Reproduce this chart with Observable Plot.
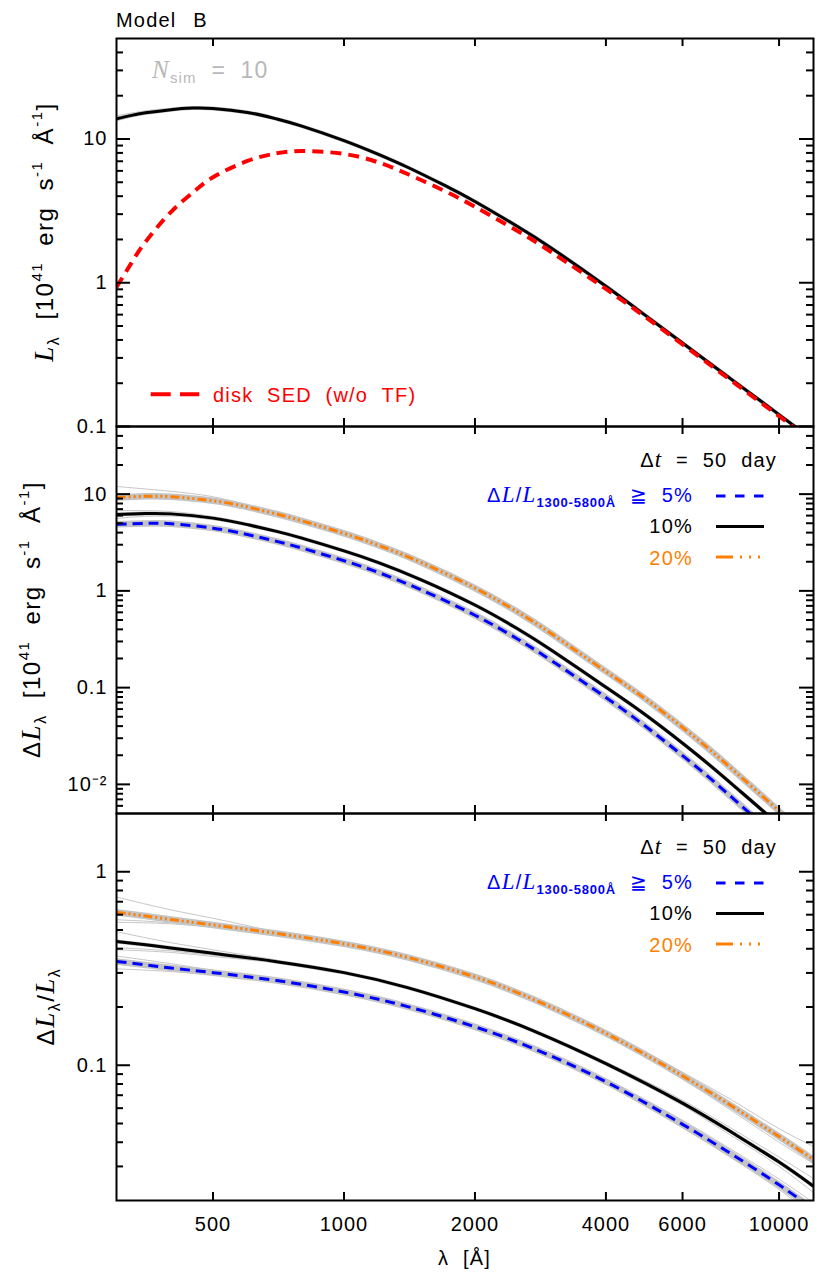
<!DOCTYPE html>
<html><head><meta charset="utf-8">
<script src="https://cdn.jsdelivr.net/npm/d3@7"></script>
<script src="https://cdn.jsdelivr.net/npm/@observablehq/plot@0.6"></script>
<style>
body{margin:0;background:#fff;}
#chart{width:830px;background:#fff;}
#chart svg{display:block;overflow:visible;}
</style></head><body><div id="chart"></div>
<script>
// ---------------- data ----------------
// wavelength grid (Angstrom) and values
const LAMBDA_1 = [300, 325, 350, 400, 450, 500, 600, 700, 800, 1000, 1200, 1400, 1700, 2000, 2500, 3000, 4000, 5000, 6500, 8000, 10000, 12000];
const L_MEAN   = [13.8, 14.6, 15.2, 16.0, 16.4, 16.3, 15.3, 13.8, 12.3, 9.75, 7.82, 6.36, 4.77, 3.67, 2.47, 1.74, 0.946, 0.574, 0.318, 0.1995, 0.121, 0.080];
const L_DISK   = [0.93, 1.38, 1.93, 3.1, 4.26, 5.42, 7.03, 7.95, 8.24, 7.87, 6.87, 5.71, 4.36, 3.38, 2.30, 1.63, 0.905, 0.56, 0.311, 0.195, 0.118, 0.078];
const LAMBDA_SIM1 = [300, 350, 400, 500, 700];
const L_SIM_A  = [14.5, 15.7, 16.3, 16.5, 13.9];
const L_SIM_B  = [13.4, 14.9, 15.8, 16.2, 13.75];

const LAMBDA_2 = [300, 350, 400, 500, 600, 700, 800, 1000, 1200, 1500, 2000, 2500, 3000, 4000, 5000, 6500, 8000, 10000, 12000];
const DL_5  = [4.87, 4.98, 4.95, 4.45, 3.82, 3.25, 2.77, 2.05, 1.55, 1.03, 0.56, 0.32, 0.19, 0.079, 0.038, 0.0148, 0.0066, 0.0027, 0.0013];
const DL_10 = [6.17, 6.3, 6.25, 5.65, 4.84, 4.12, 3.51, 2.59, 1.96, 1.31, 0.714, 0.408, 0.243, 0.101, 0.050, 0.020, 0.0091, 0.0038, 0.0018];
const DL_20 = [9.25, 9.5, 9.4, 8.55, 7.35, 6.23, 5.3, 3.93, 2.96, 1.98, 1.07, 0.61, 0.36, 0.147, 0.073, 0.029, 0.013, 0.0053, 0.0025];
const LAMBDA_SIM2 = [300, 350, 400, 500, 700];
const DL20_SIM_A = [12.0, 11.3, 10.7, 9.4, 6.3];
const DL20_SIM_B = [8.75, 9.05, 9.05, 8.35, 6.18];
const DL10_SIM_A = [6.76, 6.75, 6.6, 5.85, 4.16];
const DL10_SIM_B = [5.6, 5.9, 5.95, 5.45, 4.08];
const DL5_SIM_A  = [4.6, 4.8, 4.82, 4.37, 3.22];

const LAMBDA_3 = [300, 350, 400, 500, 700, 1000, 1400, 2000, 2700, 4000, 6000, 7800, 10000, 12000];
const R_5  = [0.344, 0.33, 0.318, 0.301, 0.274, 0.239, 0.201, 0.158, 0.123, 0.0822, 0.0495, 0.0346, 0.0241, 0.018];
const R_10 = [0.436, 0.419, 0.404, 0.379, 0.343, 0.301, 0.252, 0.196, 0.152, 0.102, 0.0637, 0.0449, 0.0316, 0.0237];
const R_20 = [0.618, 0.59, 0.567, 0.531, 0.48, 0.424, 0.361, 0.286, 0.221, 0.146, 0.0881, 0.0614, 0.0428, 0.0325];
const LAMBDA_SIM3 = [300, 400, 500, 700];
const R20_SIM_A = [0.74, 0.635, 0.575, 0.488];
const R20_SIM_B = [0.565, 0.545, 0.52, 0.477];
const R20_SIM_C = [0.548, 0.538, 0.517, 0.476];
const R10_SIM_A = [0.49, 0.43, 0.395, 0.35];
const R10_SIM_B = [0.405, 0.39, 0.37, 0.341];
const R10_SIM_C = [0.395, 0.383, 0.365, 0.339];
const R5_SIM_A  = [0.367, 0.335, 0.31, 0.277];
const R5_SIM_B  = [0.315, 0.305, 0.293, 0.271];
const LAMBDA_TAIL3 = [4000, 6000, 7800, 10000, 12000];
const R20_TAIL_A = [0.148, 0.092, 0.066, 0.047, 0.038];
const R20_TAIL_B = [0.144, 0.085, 0.058, 0.040, 0.031];
const R10_TAIL_A = [0.104, 0.066, 0.047, 0.0335, 0.026];
const R10_TAIL_B = [0.100, 0.062, 0.043, 0.030, 0.022];
const R5_TAIL_A  = [0.084, 0.052, 0.0365, 0.0258, 0.0195];
const R5_TAIL_B  = [0.080, 0.0475, 0.033, 0.0228, 0.0168];

// ticks
const X_TICKS = [500, 1000, 2000, 4000, 6000, 10000];
const X_TICK_LABELS = ["500", "1000", "2000", "4000", "6000", "10000"];
const Y1_MAJOR = [0.1, 1, 10];
const Y1_LABELS = ["0.1", "1", "10"];
const Y1_MINOR = [0.2,0.3,0.4,0.5,0.6,0.7,0.8,0.9, 2,3,4,5,6,7,8,9, 20,30,40];
const Y2_MAJOR = [0.01, 0.1, 1, 10];
const Y2_LABELS = ["10\u207B\u00B2", "0.1", "1", "10"];
const Y2_MINOR = [0.006,0.007,0.008,0.009, 0.02,0.03,0.04,0.05,0.06,0.07,0.08,0.09, 0.2,0.3,0.4,0.5,0.6,0.7,0.8,0.9, 2,3,4,5,6,7,8,9, 20,30,40];
const Y3_MAJOR = [0.1, 1];
const Y3_LABELS = ["0.1", "1"];
const Y3_MINOR = [0.03,0.04,0.05,0.06,0.07,0.08,0.09, 0.2,0.3,0.4,0.5,0.6,0.7,0.8,0.9];

// ---------------- style ----------------
const FONT = "'Liberation Sans', Arial, Helvetica, sans-serif";
const SERIF = "'Liberation Serif', 'Times New Roman', serif";
const BLUE = "#0000ff", ORANGE = "#ff7f00", RED = "#ff0000", GRAY = "#c4c4c4", THIN = "#c8c8c8";
const W = 830, ML = 116, MR = 17, IW = W - ML - MR;
const XDOM = [300, 12000];
const DASH_BLUE = "10,6", DASH_ORANGE = "9,3,2,3,2,3,2,3", DASH_RED = "11,7";
const CURVE = "natural";

const pts = (xs, ys) => xs.map((x, i) => ({x, y: ys[i]}));

function frameMarks(innerH, majors, minors, labels) {
  return [
    Plot.ruleX(X_TICKS, {x: d => d, insetTop: innerH - 8, stroke: "black", strokeWidth: 2}),
    Plot.ruleX(X_TICKS, {x: d => d, insetBottom: innerH - 8, stroke: "black", strokeWidth: 2}),
    Plot.ruleY(majors, {y: d => d, insetRight: IW - 14, stroke: "black", strokeWidth: 2}),
    Plot.ruleY(majors, {y: d => d, insetLeft: IW - 14, stroke: "black", strokeWidth: 2}),
    Plot.ruleY(minors, {y: d => d, insetRight: IW - 7, stroke: "black", strokeWidth: 2}),
    Plot.ruleY(minors, {y: d => d, insetLeft: IW - 7, stroke: "black", strokeWidth: 2}),
    Plot.text(majors, {y: d => d, text: (d, i) => labels[i], frameAnchor: "left", textAnchor: "end", dx: -9, fontSize: 20, fill: "black"}),
    Plot.frame({stroke: "black", strokeWidth: 2})
  ];
}
function thin(xs, ys) {
  return Plot.line(pts(xs, ys), {x: "x", y: "y", stroke: THIN, strokeWidth: 1, curve: "monotone-x", clip: true});
}
function main(xs, ys, stroke, dash, width = 3, halo = 0) {
  const out = [];
  if (halo) out.push(Plot.line(pts(xs, ys), {x: "x", y: "y", stroke: GRAY, strokeWidth: halo, curve: CURVE, clip: true}));
  out.push(Plot.line(pts(xs, ys), {x: "x", y: "y", stroke, strokeWidth: width, strokeDasharray: dash, strokeLinecap: "butt", curve: CURVE, clip: true}));
  return out;
}
function panel(height, marginTop, marginBottom, yDomain, marks) {
  return Plot.plot({
    width: W, height, marginLeft: ML, marginRight: MR, marginTop, marginBottom,
    x: {type: "log", domain: XDOM, axis: null},
    y: {type: "log", domain: yDomain, axis: null},
    style: {fontFamily: FONT, fontSize: "20px", background: "transparent", overflow: "visible", letterSpacing: "1px"},
    marks
  });
}

// rich text helper (sub/superscripts)
function rich(svg, {x, y, anchor = "start", rotate = 0, fill = "black", size = 20, ls = 1.2, ws = 7, parts}) {
  const t = d3.select(svg).append("text")
    .attr("transform", `translate(${x},${y})` + (rotate ? ` rotate(${rotate})` : ""))
    .attr("text-anchor", anchor).attr("fill", fill)
    .style("font-family", FONT).style("font-size", size + "px")
    .style("letter-spacing", ls + "px").style("word-spacing", ws + "px").style("white-space", "pre");
  let cur = 0;
  for (const p of parts) {
    const sh = p.shift || 0;
    const ts = t.append("tspan").attr("dy", sh - cur).text(p.t);
    cur = sh;
    if (p.size) ts.style("font-size", p.size + "px");
    if (p.italic) ts.style("font-style", "italic").style("font-family", SERIF);
    if (p.bold) ts.style("font-weight", "bold");
    if (p.ls !== undefined) ts.style("letter-spacing", p.ls + "px");
  }
  return t;
}
function legendLine(svg, y, stroke, dash, width = 3) {
  d3.select(svg).append("line").attr("x1", 716).attr("x2", 764).attr("y1", y).attr("y2", y)
    .attr("stroke", stroke).attr("stroke-width", width).attr("stroke-dasharray", dash || null);
}
const fluxUnits = [
  {t: " [10", shift: 0}, {t: "41", size: 15, shift: -11}, {t: " erg s", shift: 0},
  {t: "-1", size: 15, shift: -11}, {t: " \u00C5", shift: 0}, {t: "-1", size: 15, shift: -11}, {t: "]", shift: 0}
];
function dtLegend(svg) {
  rich(svg, {x: 777, y: 41, anchor: "end", parts: [{t: "\u0394"}, {t: "t", italic: true, size: 23}, {t: " = 50 day"}]});
  rich(svg, {x: 693, y: 76, anchor: "end", fill: BLUE, parts: [
    {t: "\u0394"}, {t: "L", italic: true, size: 23}, {t: "/"}, {t: "L", italic: true, size: 23},
    {t: "1300-5800\u00C5", size: 13, bold: true, shift: 5, ls: 0.8}, {t: " \u2267 5%", shift: 0}]});
  legendLine(svg, 70, BLUE, "9.5,9.5");
  rich(svg, {x: 693, y: 107, anchor: "end", parts: [{t: "10%"}]});
  legendLine(svg, 100.5, "black", null);
  rich(svg, {x: 693, y: 139, anchor: "end", fill: ORANGE, parts: [{t: "20%"}]});
  legendLine(svg, 131, ORANGE, "17,7,2,7,2,7,2,100");
}

const chart = document.getElementById("chart");

// ---------- panel 1 ----------
const p1 = panel(426, 38, 0, [0.1, 50], [
  thin(LAMBDA_SIM1, L_SIM_A), thin(LAMBDA_SIM1, L_SIM_B),
  ...main(LAMBDA_1, L_MEAN, "black", null, 3, 4),
  ...main(LAMBDA_1, L_DISK, RED, DASH_RED, 4),
  ...frameMarks(388, Y1_MAJOR, Y1_MINOR, Y1_LABELS)
]);
chart.appendChild(p1);
rich(p1, {x: 116, y: 27, ws: 10, parts: [{t: "Model B"}]});
rich(p1, {x: 152, y: 78, fill: "#b8b8b8", size: 23, parts: [{t: "N", italic: true, size: 25}, {t: "sim", size: 15, shift: 5}, {t: " = 10", shift: 0}]});
d3.select(p1).append("line").attr("x1", 150.7).attr("x2", 199.3).attr("y1", 394.3).attr("y2", 394.3)
  .attr("stroke", RED).attr("stroke-width", 4).attr("stroke-dasharray", "20,9.3");
rich(p1, {x: 213, y: 402, fill: RED, parts: [{t: "disk SED (w/o TF)"}]});
rich(p1, {x: 53, y: 232, rotate: -90, anchor: "middle", size: 24, ls: 1.5, ws: 8, parts: [
  {t: "L", italic: true, size: 27}, {t: "\u03BB", size: 16, shift: 6}, ...fluxUnits]});

// ---------- panel 2 ----------
const p2 = panel(387, 0, 0, [0.005, 50], [
  thin(LAMBDA_SIM2, DL20_SIM_A), thin(LAMBDA_SIM2, DL20_SIM_B), thin(LAMBDA_SIM2, DL10_SIM_A),
  thin(LAMBDA_SIM2, DL10_SIM_B), thin(LAMBDA_SIM2, DL5_SIM_A),
  ...main(LAMBDA_2, DL_20, ORANGE, DASH_ORANGE, 3, 6.5),
  ...main(LAMBDA_2, DL_5, BLUE, DASH_BLUE, 3, 6.5),
  ...main(LAMBDA_2, DL_10, "black", null, 3, 4),
  ...frameMarks(387, Y2_MAJOR, Y2_MINOR, Y2_LABELS)
]);
chart.appendChild(p2);
dtLegend(p2);
rich(p2, {x: 40, y: 193.5, rotate: -90, anchor: "middle", size: 24, ls: 1.5, ws: 8, parts: [
  {t: "\u0394"}, {t: "L", italic: true, size: 27}, {t: "\u03BB", size: 16, shift: 6}, ...fluxUnits]});

// ---------- panel 3 ----------
const p3 = panel(465, 0, 78, [0.02, 2], [
  thin(LAMBDA_SIM3, R20_SIM_A), thin(LAMBDA_SIM3, R20_SIM_B), thin(LAMBDA_SIM3, R20_SIM_C),
  thin(LAMBDA_SIM3, R10_SIM_A), thin(LAMBDA_SIM3, R10_SIM_B), thin(LAMBDA_SIM3, R10_SIM_C),
  thin(LAMBDA_SIM3, R5_SIM_A), thin(LAMBDA_SIM3, R5_SIM_B),
  thin(LAMBDA_TAIL3, R20_TAIL_A), thin(LAMBDA_TAIL3, R20_TAIL_B),
  thin(LAMBDA_TAIL3, R10_TAIL_A), thin(LAMBDA_TAIL3, R10_TAIL_B),
  thin(LAMBDA_TAIL3, R5_TAIL_A), thin(LAMBDA_TAIL3, R5_TAIL_B),
  ...main(LAMBDA_3, R_20, ORANGE, DASH_ORANGE, 3, 6.5),
  ...main(LAMBDA_3, R_5, BLUE, DASH_BLUE, 3, 6.5),
  ...main(LAMBDA_3, R_10, "black", null, 3, 4),
  ...frameMarks(387, Y3_MAJOR, Y3_MINOR, Y3_LABELS),
  Plot.text(X_TICKS, {x: d => d, text: (d, i) => X_TICK_LABELS[i], frameAnchor: "bottom", dy: 30, fontSize: 20, fill: "black"})
]);
chart.appendChild(p3);
dtLegend(p3);
rich(p3, {x: 54, y: 193.5, rotate: -90, anchor: "middle", size: 24, ls: 1.5, parts: [
  {t: "\u0394"}, {t: "L", italic: true, size: 27}, {t: "\u03BB", size: 16, shift: 6},
  {t: "/", shift: 0}, {t: "L", italic: true, size: 27}, {t: "\u03BB", size: 16, shift: 6}]});
rich(p3, {x: 464.5, y: 452, anchor: "middle", parts: [{t: "\u03BB [\u00C5]"}]});
</script></body></html>
